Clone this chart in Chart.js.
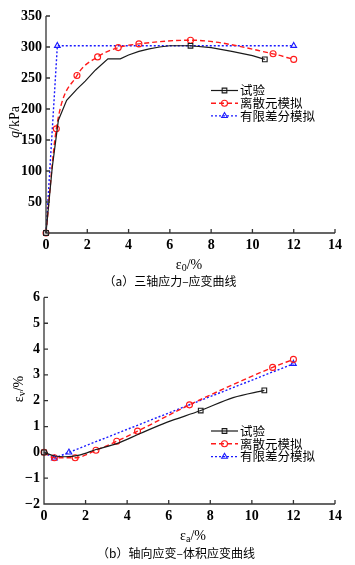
<!DOCTYPE html>
<html><head><meta charset="utf-8">
<script src="https://cdn.jsdelivr.net/npm/chart.js@4"></script>
<style>
html,body{margin:0;padding:0;background:#fff;width:355px;height:565px;overflow:hidden;}
#wrap{position:relative;width:355px;height:565px;}
canvas{position:absolute;left:0;}
.cap{position:absolute;font-family:'Noto Sans CJK SC',sans-serif;font-size:12px;color:#000;white-space:nowrap;transform:translate(-50%,-50%);}
</style></head><body>
<div id="wrap">
<canvas id="c1" width="355" height="285" style="top:0"></canvas>
<canvas id="c2" width="355" height="280" style="top:285px"></canvas>
<div class="cap" style="left:170px;top:280px">（a）三轴应力–应变曲线</div>
<div class="cap" style="left:176px;top:552px">（b）轴向应变–体积应变曲线</div>
</div>
<script>
// ---------- shared ----------
const legendLabels = ['试验', '离散元模拟', '有限差分模拟'];
const strainTicks = [0, 2, 4, 6, 8, 10, 12, 14];

// ---------- (a) deviator stress vs axial strain ----------
const qTicks = [0, 50, 100, 150, 200, 250, 300, 350];
const testStrainA = [0, 0.3, 0.6, 1.0, 1.5, 1.9, 2.4, 3.0, 3.6, 4.0, 4.5, 5.0, 5.5, 6.0, 7.0, 8.0, 9.0, 10.0, 10.6];
const testQ       = [0, 105, 182, 214, 232, 245, 263, 281, 281, 287, 293, 297, 300, 302, 302, 299, 293, 286, 280];
const testMarkA   = [0, 7.0, 10.6];
const demStrainA  = [0, 0.5, 1.5, 2.5, 3.5, 4.5, 7, 11, 12];
const demQ        = [0, 168, 254, 284, 299, 305, 311, 289, 280];
const fdmStrainA  = [0, 0.55, 12];
const fdmQ        = [0, 302, 302];

// ---------- (b) volumetric strain vs axial strain ----------
const evTicks = [-2, -1, 0, 1, 2, 3, 4, 5, 6];
const testStrainB = [0, 0.5, 1.0, 1.7, 2.5, 3.5, 4.6, 5.9, 7.54, 9.1, 10.6];
const testEv      = [0, -0.14, -0.17, -0.11, 0.11, 0.34, 0.72, 1.16, 1.62, 2.12, 2.40];
const testMarkB   = [0, 7.54, 10.6];
const demStrainB  = [0, 0.5, 1.5, 2.5, 3.5, 4.5, 7, 11, 12];
const demEv       = [0, -0.21, -0.21, 0.08, 0.43, 0.82, 1.84, 3.29, 3.60];
const fdmStrainB  = [0, 0.5, 1.2, 12];
const fdmEv       = [0, -0.23, 0, 3.43];

const pts = (xs, ys) => xs.map((x, i) => ({x, y: ys[i]}));
const SERIF = "'Liberation Serif', serif";
const CJK = "'Noto Sans CJK SC',sans-serif";
Chart.defaults.font.family = SERIF;

const styles = [
  {color: '#1a1a1a', dash: [], width: 1.2, point: 'rect', r: 3.3},
  {color: '#ff1a1a', dash: [5, 3], width: 1.4, point: 'circle', r: 3},
  {color: '#1a1aff', dash: [2, 2], width: 1.4, point: 'triangle', r: 3.3}
];

function marker(ctx, style, x, y, r) {
  ctx.beginPath();
  if (style === 'circle') ctx.arc(x, y, r, 0, Math.PI * 2);
  else if (style === 'rect') { const s = r * Math.SQRT1_2; ctx.rect(x - s, y - s, 2 * s, 2 * s); }
  else { ctx.moveTo(x, y - r); ctx.lineTo(x + r * 0.866, y + r * 0.5); ctx.lineTo(x - r * 0.866, y + r * 0.5); ctx.closePath(); }
  ctx.stroke();
}

function drawParts(ctx, parts, cx, cy) {
  let w = 0;
  parts.forEach(p => { ctx.font = p.f; p.w = ctx.measureText(p.t).width; w += p.w; });
  let x = cx - w / 2;
  ctx.textBaseline = 'middle'; ctx.textAlign = 'left';
  parts.forEach(p => { ctx.font = p.f; ctx.fillText(p.t, x, cy + (p.dy || 0)); x += p.w; });
}

const decorPlugin = {
  id: 'decor',
  afterDraw(chart, args, o) {
    const {ctx, chartArea: a, scales: {x, y}} = chart;
    ctx.save();
    ctx.strokeStyle = '#333'; ctx.lineWidth = 1.3; ctx.setLineDash([]);
    ctx.beginPath();
    ctx.moveTo(a.left, a.top); ctx.lineTo(a.left, a.bottom); ctx.lineTo(a.right, a.bottom);
    x.ticks.forEach(t => { const px = x.getPixelForValue(t.value); ctx.moveTo(px, a.bottom); ctx.lineTo(px, a.bottom - 4); });
    y.ticks.forEach(t => { const py = y.getPixelForValue(t.value); ctx.moveTo(a.left, py); ctx.lineTo(a.left + 4, py); });
    ctx.stroke();
    ctx.fillStyle = '#000';
    drawParts(ctx, o.xTitle, o.xTitlePos[0], o.xTitlePos[1]);
    ctx.save();
    ctx.translate(o.yTitlePos[0], o.yTitlePos[1]);
    ctx.rotate(-Math.PI / 2);
    drawParts(ctx, o.yTitle, 0, 0);
    ctx.restore();
    const L = o.legend;
    legendLabels.forEach((lab, i) => {
      const s = styles[i];
      const yy = L.y + i * L.dy;
      ctx.strokeStyle = s.color; ctx.lineWidth = s.width; ctx.setLineDash(s.dash);
      ctx.beginPath(); ctx.moveTo(L.x0, yy); ctx.lineTo(L.x1, yy); ctx.stroke();
      ctx.setLineDash([]); ctx.lineWidth = 1.1;
      marker(ctx, s.point, (L.x0 + L.x1) / 2, yy, s.r);
      ctx.fillStyle = '#000'; ctx.font = '12.5px ' + CJK; ctx.textAlign = 'left'; ctx.textBaseline = 'middle';
      ctx.fillText(lab, L.x1 + 2, yy);
    });
    ctx.restore();
  }
};

function ds(i, data, tension, markAt) {
  const s = styles[i];
  return {
    label: legendLabels[i], data,
    borderColor: s.color, borderWidth: s.width, borderDash: s.dash,
    backgroundColor: 'rgba(0,0,0,0)',
    pointStyle: s.point,
    pointRadius: c => (markAt ? (markAt.includes(c.raw.x) ? s.r : 0) : s.r),
    pointBorderColor: s.color, pointBackgroundColor: 'rgba(0,0,0,0)', pointBorderWidth: 1.1,
    cubicInterpolationMode: tension === 'mono' ? 'monotone' : 'default',
    tension: 0, clip: false, fill: false
  };
}

function makeChart(id, datasets, yTicks, yMin, yMax, hideZero, opt) {
  const tickFont = {family: SERIF, size: 14, weight: 'bold'};
  return new Chart(document.getElementById(id), {
    type: 'line',
    data: {datasets},
    options: {
      responsive: false, animation: false, devicePixelRatio: 1,
      layout: {padding: {left: 0, right: opt.right, top: opt.top, bottom: 0}},
      plugins: {legend: {display: false}, tooltip: {enabled: false}, decor: opt.decor},
      scales: {
        x: {
          type: 'linear', min: 0, max: 14,
          afterBuildTicks: s => { s.ticks = strainTicks.map(v => ({value: v})); },
          afterFit: s => { s.height = opt.xH; },
          grid: {display: false, drawTicks: false}, border: {display: false},
          ticks: {color: '#000', font: tickFont, padding: 4, maxRotation: 0, autoSkip: false}
        },
        y: {
          type: 'linear', min: yMin, max: yMax,
          afterBuildTicks: s => { s.ticks = yTicks.map(v => ({value: v})); },
          afterFit: s => { s.width = opt.yW; },
          grid: {display: false, drawTicks: false}, border: {display: false},
          ticks: {color: '#000', font: tickFont, padding: 4, autoSkip: false,
            callback: v => (hideZero && v === 0) ? '' : String(v).replace('-', '\u2212')}
        }
      }
    },
    plugins: [decorPlugin]
  });
}

const sF = '14px ' + SERIF, sI = 'italic 14px ' + SERIF, sSub = '10px ' + SERIF;

makeChart('c1', [
  ds(0, pts(testStrainA, testQ), 'lin', testMarkA),
  ds(1, pts(demStrainA, demQ), 'mono', null),
  ds(2, pts(fdmStrainA, fdmQ), 'lin', [0.55, 12])
], qTicks, 0, 350, true, {
  right: 20, top: 16, xH: 52, yW: 46,
  decor: {
    xTitle: [{t: 'ε', f: sF}, {t: '0', f: sSub, dy: 3}, {t: '/%', f: sF}], xTitlePos: [189, 265],
    yTitle: [{t: 'q', f: sI}, {t: '/kPa', f: sF}], yTitlePos: [15, 122],
    legend: {x0: 211, x1: 238, y: 90.5, dy: 12.7}
  }
});

makeChart('c2', [
  ds(0, pts(testStrainB, testEv), 'mono', testMarkB),
  ds(1, pts(demStrainB, demEv), 'mono', null),
  ds(2, pts(fdmStrainB, fdmEv), 'lin', [0.5, 1.2, 12])
], evTicks, -2, 6, false, {
  right: 20, top: 10, xH: 61, yW: 44,
  decor: {
    xTitle: [{t: 'ε', f: sF}, {t: 'a', f: sSub, dy: 3}, {t: '/%', f: sF}], xTitlePos: [193, 251],
    yTitle: [{t: 'ε', f: sF}, {t: 'v', f: sSub, dy: 3}, {t: '/%', f: sF}], yTitlePos: [19, 104],
    legend: {x0: 211, x1: 238, y: 146, dy: 12.8}
  }
});
</script>
</body></html>
